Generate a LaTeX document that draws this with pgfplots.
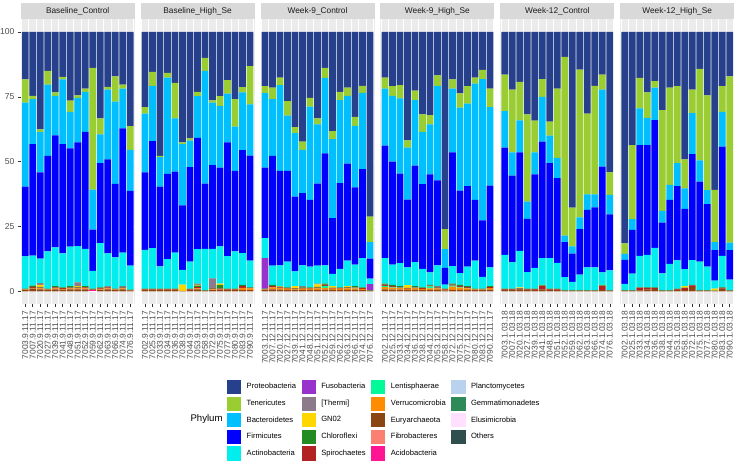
\documentclass[border=0pt]{standalone}
\usepackage{pgfplots}
\usepackage{pgfplotstable}
\pgfplotsset{compat=1.18}
\usepackage{fontspec}
\setmainfont{Liberation Sans}

\definecolor{protc}{HTML}{27408B}
\definecolor{tenc}{HTML}{9ACD32}
\definecolor{bacc}{HTML}{00BFFF}
\definecolor{firc}{HTML}{0000FF}
\definecolor{actc}{HTML}{00EEEE}
\definecolor{fusoc}{HTML}{9932CC}
\definecolor{thermc}{HTML}{8B7B8B}
\definecolor{gnc}{HTML}{FFD700}
\definecolor{chloc}{HTML}{228B22}
\definecolor{spic}{HTML}{B22222}
\definecolor{lentc}{HTML}{00FA9A}
\definecolor{verc}{HTML}{FF8C00}
\definecolor{euryc}{HTML}{8B4513}
\definecolor{fibc}{HTML}{FA8072}
\definecolor{acic}{HTML}{FF1493}
\definecolor{planc}{HTML}{B9D3EE}
\definecolor{gemc}{HTML}{2E8B57}
\definecolor{eluc}{HTML}{FFE1FF}
\definecolor{othc}{HTML}{2F4F4F}
\definecolor{panelbg}{HTML}{EBEBEB}
\definecolor{stripbg}{HTML}{D9D9D9}
\definecolor{labgray}{HTML}{4D4D4D}
\definecolor{striptext}{HTML}{1A1A1A}
\definecolor{tickgray}{HTML}{333333}

% columns: x ac eu ve le sp ch gn th fu act fir bac ten pro
\pgfplotstableread{
x ac eu ve le sp ch gn th fu act fir bac ten pro
1 0 0.5 0.15 0 0.15 0.2 0 0 0 12.5 26.9 32.4 8.9 18.3
2 0 1.0 0.3 0 0.4 0.5 0 0 0 11.6 43.0 17.3 1.3 24.6
3 0 0.8 0.3 0 0.3 0.3 0.8 0.7 0 9.4 33.3 15.6 0.9 37.6
4 0 0.6 0.1 0 0.1 0.2 0 0 0 14.4 36.8 27.5 5.3 15.0
5 0 0.8 0.3 0 0.4 0.5 0 0 0 14.9 43.2 15.3 1.3 23.3
6 0 0.7 0.2 0 0.3 0.3 0 0 0 13.1 42.2 24.9 1.0 17.3
7 0 0.8 0.3 0 0.3 0.6 0 0 0 15.2 37.9 14.1 4.3 26.5
8 0 0.8 0.3 0 0.3 0.3 0.3 1.5 0 13.9 40.0 17.2 1.0 24.4
9 0 0.8 0.3 0 0.4 0.5 0 0 0 14.4 45.1 15.4 1.3 21.8
10 0.5 0.3 0 0 0 0.2 0 0 0 6.9 15.9 15.4 47.0 13.8
11 0 0.6 0.2 0 0.3 0.4 0 0 0 17.1 30.8 11.1 6.2 33.3
12 0 0.8 0.3 0 0.4 0.3 0 0.2 0 12.6 36.3 26.9 1.0 21.2
13 0 0.5 0.2 0 0.1 0.2 0 0 0 12.1 28.3 31.7 9.8 17.1
14 0 0.8 0.3 0 0.3 0.3 0 0.3 0 12.9 47.9 15.4 1.5 20.3
15 0 0.4 0.1 0 0 0.2 0 0 0 9.2 28.8 15.8 9.2 36.3
}\tA
\pgfplotstableread{
x ac eu ve le sp ch gn th fu act fir bac ten pro
1 0 0.5 0.1 0 0.2 0.2 0 0 0 15.0 29.9 22.6 2.5 29.0
2 0 0.5 0.1 0 0.2 0.2 0 0 0 15.7 41.2 21.3 5.4 15.4
3 0 0.5 0.1 0 0.2 0.2 0 0 0 8.6 30.8 11.3 0.5 47.8
4 0 0.5 0.1 0 0.2 0.2 0 0 0 11.4 32.9 37.1 1.8 15.8
5 0 0.5 0.1 0 0.2 0.2 0 0 0 13.9 31.3 20.5 13.7 19.6
6 0 0.2 0 0 0 0 2.4 0 0 5.7 24.8 23.7 0.6 42.6
7 0 0.5 0.1 0 0.2 0.2 0 0 0 10.5 36.4 10.2 0.9 41.0
8 0 0.8 0.3 0 0.5 0.6 0.3 0.5 0 13.3 42.9 16.1 1.6 23.1
9 0 0.3 0 0 0 0.2 0 0 0 15.9 25.1 43.5 5.0 10.0
10 0 0.5 0.3 0 0.2 0.2 0 3.8 0 11.4 32.3 24.1 0.8 26.4
11 0 0.5 0.2 0 0.3 1.5 0.5 0 0 14.3 30.4 23.8 3.8 24.7
12 0 0.5 0.1 0 0.2 0.2 0 0 0 12.6 43.8 18.8 5.2 18.6
13 0 0.5 0.1 0 0.2 0.2 0 0 0 14.4 31.0 17.1 10.6 25.9
14 0 0.6 0.7 0 0.8 0.4 0 0 0 12.2 39.7 22.3 2.0 21.3
15 0 0.5 0.6 0 0.2 0.2 0 0 0 10.3 40.5 19.8 14.7 13.2
}\tB
\pgfplotstableread{
x ac eu ve le sp ch gn th fu act fir bac ten pro
1 0 0.5 0.2 0 0.1 0.2 0 0 11.8 7.7 27.2 28.7 2.7 20.9
2 0 0.8 0.7 0 0.5 0.5 0 0 0 7.4 42.3 21.9 4.4 21.5
3 0 0.7 0.5 0 0.3 0.3 0.2 0 0 8.0 36.4 33.1 2.9 17.6
4 0 0.6 0.4 0 0.2 0.3 0 0 0 10.0 34.9 21.3 5.6 26.7
5 0 0.5 0.3 0 0.2 0.2 0.8 0 0 5.7 28.8 24.5 2.3 36.7
6 0 0.6 0.4 0 0.2 0.3 0 0.5 0 8.0 27.9 16.6 3.2 42.3
7 0 0.6 0.4 0 0.2 0.3 0 0 0 8.0 25.8 35.9 3.4 25.4
8 0 0.6 0.5 0 0.3 0.3 1.0 0.3 0 6.9 31.6 22.9 2.3 33.3
9 0 0.7 0.6 0.8 0.5 0.4 0 0 0 7.0 43.2 29.1 3.9 13.8
10 0 0.6 0.4 0 0.2 0.2 0.6 0 0 4.7 21.5 30.5 3.1 38.2
11 0 0.6 0.4 0 0.2 0.3 0 0 0 7.2 33.0 32.0 3.2 23.1
12 0 0.6 0.5 0 0.3 0.2 0.4 0 0 9.8 37.4 26.2 3.1 21.5
13 0 0.7 0.4 0.3 0.3 0.3 0 0 0 8.3 29.8 23.7 3.5 32.7
14 0 0.6 0.3 0 0.3 0.3 0 0 0 11.3 34.3 29.4 2.7 20.8
15 0 0.3 0 0 0 0.2 0 0 2.3 2.1 7.7 6.4 9.8 71.2
}\tC
\pgfplotstableread{
x ac eu ve le sp ch gn th fu act fir bac ten pro
1 0 0.8 0.8 0.5 0.5 0.4 0 0 0 9.8 43.4 22.0 4.2 17.6
2 0 0.7 0.7 0.3 0.4 0.4 0 0 0 7.8 39.7 25.4 3.7 20.9
3 0 0.7 0.5 0.2 0.3 0.3 0 0 0 8.9 34.5 29.0 5.1 20.5
4 0 0.6 0.3 0 0.2 0.2 1.2 0 0 6.7 26.2 20.0 2.8 41.8
5 0 0.7 0.5 0.2 0.3 0.3 0 0 0 9.3 37.2 25.2 3.7 22.6
6 0 0.6 0.3 0 0.3 0.3 0 0 0 7.2 32.6 20.2 6.7 31.8
7 0 0.6 0.5 0.8 0.3 0.3 0 0 0 4.8 37.8 19.3 3.5 32.1
8 0 0.7 0.4 0 0.3 0.3 0 0.3 0 8.0 32.8 36.4 4.1 16.7
9 0 0.4 0.2 0 0.2 0.2 0 0 0 1.6 6.4 7.3 7.7 76.0
10 0 0.6 1.2 0.4 0.4 0.4 0 0 0 6.7 43.9 24.6 3.5 18.3
11 0 0.6 0.8 0.3 0.4 0.4 0 0 0 4.5 31.8 32.0 5.5 23.7
12 0 0.6 0.5 0.2 0.4 0.3 0 0 0 7.5 31.1 31.8 6.7 20.9
13 0 0.5 0.2 0 0.1 0.2 0 0 0 10.8 23.5 44.8 2.3 17.6
14 0 0.5 0.2 0 0.1 0.2 0 0 0 4.6 21.8 54.4 3.6 14.6
15 0 0.7 0.5 0 0.4 0.4 0 0 0 7.2 31.6 30.2 7.2 21.8
}\tD
\pgfplotstableread{
x ac eu ve le sp ch gn th fu act fir bac ten pro
1 0 0.6 0 0 0.2 0.2 0 0 0 13.1 41.3 14.1 14.1 16.4
2 0 0.6 0 0 0.2 0.2 0 0 0 10.3 33.3 9.0 24.2 22.2
3 0 0.8 0 0 0.2 0.2 0.3 0 0 14.1 38.0 12.3 14.9 19.2
4 0 0.6 0 0 0.2 0.2 0 0 0 6.4 20.5 6.7 33.6 31.8
5 0 0.6 0 0 0.2 0.2 0 0 0 8.0 36.1 8.5 12.2 34.2
6 0 0.8 0 0 1.3 0.2 0.2 0 0 10.3 44.9 17.3 6.8 18.2
7 0 0.6 0 0 0.2 0.2 0 0 0 11.8 36.6 10.6 5.4 34.6
8 0 0.5 0 0 0.3 0.2 0 0 0 10.0 32.6 7.9 26.7 21.8
9 0 0.3 0 0 0 0.2 0 0 0 5.0 13.5 2.5 68.9 9.6
10 0 0.3 0 0 0 0.2 0 0 0 3.1 10.9 2.8 15.0 67.7
11 0 0.3 0 0 0 0.2 0 0 0 5.9 17.6 4.5 57.0 14.5
12 0 0.3 0 0 0 0.2 0 0 0 8.7 22.2 6.0 31.1 31.5
13 0 0.3 0 0 0 0.2 0 0 0 8.7 23.2 5.0 41.8 20.8
14 0 0.6 0 0 1.5 0.2 0.2 0 0 4.8 40.8 29.7 5.8 16.4
15 0 0.3 0 0 0 0.2 0 0 0 7.6 21.6 7.5 8.7 54.1
}\tE
\pgfplotstableread{
x ac eu ve le sp ch gn th fu act fir bac ten pro
1 0 0.3 0 0 0 0.2 0 0 0 2.4 9.2 2.3 4.1 81.5
2 0 0.3 0 0 0 0.2 0 0 0 6.3 16.9 4.1 28.6 43.6
3 0 0.4 0 0 1.0 0.1 0 0 0 12.2 42.7 14.1 11.8 17.7
4 0 0.8 0 0 0.5 0.2 0 0 0 12.6 42.3 10.5 9.8 23.3
5 0 0.9 0 0 0.4 0.2 0 0 0 15.3 49.2 12.5 2.5 19.0
6 0 0.3 0 0 0 0.2 0 0 0 6.4 19.6 4.5 38.9 30.1
7 0 0.3 0 0 0 0.2 0 0 0 10.1 24.7 5.7 37.5 21.5
8 0 0.6 0 0 0.2 0.2 0 0 0 10.9 28.7 8.8 29.7 20.9
9 0 0.5 0 0 0.7 0.2 0.6 0 0 6.6 23.2 7.9 11.2 49.1
10 0 1.6 0 0 0.7 0.2 0 0 0 9.5 40.9 15.8 9.1 22.2
11 0 0.3 0 0 0 0.2 0 0 0 11.0 30.8 8.2 35.3 14.2
12 0 0.3 0 0 0 0.2 0 0 0 9.0 24.1 5.4 36.6 24.4
13 0 0.2 0 0 0 0.1 0.7 0 0 3.1 11.8 3.1 20.1 60.9
14 0 1.0 0 0 0.3 0.2 0 0 0 12.2 42.1 13.4 9.9 20.9
15 0 0.3 0 0 0 0.2 0 0 0 4.0 11.4 2.9 64.1 17.1
}\tF

\newcommand{\bars}[1]{%
\addplot[fill=acic,draw=none] table[x=x,y=ac]{#1};
\addplot[fill=euryc,draw=none] table[x=x,y=eu]{#1};
\addplot[fill=verc,draw=none] table[x=x,y=ve]{#1};
\addplot[fill=lentc,draw=none] table[x=x,y=le]{#1};
\addplot[fill=spic,draw=none] table[x=x,y=sp]{#1};
\addplot[fill=chloc,draw=none] table[x=x,y=ch]{#1};
\addplot[fill=gnc,draw=none] table[x=x,y=gn]{#1};
\addplot[fill=thermc,draw=none] table[x=x,y=th]{#1};
\addplot[fill=fusoc,draw=none] table[x=x,y=fu]{#1};
\addplot[fill=actc,draw=none] table[x=x,y=act]{#1};
\addplot[fill=firc,draw=none] table[x=x,y=fir]{#1};
\addplot[fill=bacc,draw=none] table[x=x,y=bac]{#1};
\addplot[fill=tenc,draw=none] table[x=x,y=ten]{#1};
\addplot[fill=protc,draw=none] table[x=x,y=pro]{#1};
}
\newcommand{\strip}[1]{\node[fill=stripbg,minimum width=114pt,minimum height=15.5pt,inner sep=0pt,anchor=south,text=striptext,font=\fontsize{8.3}{9}\selectfont] at (rel axis cs:0.5,1) {#1};}

\pgfplotsset{
facet/.style={
  ybar stacked, bar width=0.9,
  scale only axis, width=114pt, height=285.3pt,
  xmin=0.4, xmax=15.6, ymin=-5, ymax=105,
  axis lines*=left, axis line style={draw=none,-},
  axis background/.style={fill=panelbg},
  xtick={1,...,15},
  minor xtick={0.5,1.5,...,15.5}, xminorgrids=true,
  minor grid style={white, line width=0.9pt}, minor tick length=0pt,
  ytick={0,25,50,75,100}, ymajorgrids=true,
  major grid style={white, line width=0.6pt},
  tick align=outside, major tick length=2.7pt,
  tick style={color=tickgray, line width=0.5pt},
  x tick label style={yshift=-2.5pt, rotate=90, anchor=east, text=labgray, font=\fontsize{8.4}{9}\selectfont, inner sep=1pt},
  y tick label style={text=labgray, font=\fontsize{8.6}{9}\selectfont},
  yticklabels={},
  clip=false,
},
notfirst/.style={y tick style={draw=none}},
sq/.style={legend image code/.code={\fill[#1] (0pt,-6.6pt) rectangle (13.3pt,6.6pt);}},
}

\begin{document}
\begin{tikzpicture}
\useasboundingbox (0,0) rectangle (740pt,464pt);

\begin{axis}[facet, at={(20.7pt,159.7pt)}, anchor=south west,
  yticklabels={0,25,50,75,100},
  xticklabels={7003.9.11.17,7007.9.11.17,7020.9.11.17,7027.9.11.17,7039.9.11.17,7041.9.11.17,7048.9.11.17,7051.9.11.17,7052.9.11.17,7059.9.11.17,7062.9.11.17,7063.9.11.17,7066.9.11.17,7074.9.11.17,7076.9.11.17}]
\bars{\tA}
\strip{Baseline\_Control}
\end{axis}

\begin{axis}[facet, notfirst, at={(140.6pt,159.7pt)}, anchor=south west,
  xticklabels={7002.9.11.17,7025.9.11.17,7033.9.11.17,7034.9.11.17,7036.9.11.17,7038.9.11.17,7044.9.11.17,7053.9.11.17,7058.9.11.17,7072.9.11.17,7075.9.11.17,7077.9.11.17,7080.9.11.17,7083.9.11.17,7090.9.11.17}]
\bars{\tB}
\strip{Baseline\_High\_Se}
\end{axis}

\begin{axis}[facet, notfirst, at={(260.5pt,159.7pt)}, anchor=south west,
  xticklabels={7003.12.11.17,7007.12.11.17,7020.12.11.17,7027.12.11.17,7039.12.11.17,7041.12.11.17,7048.12.11.17,7051.12.11.17,7052.12.11.17,7059.12.11.17,7062.12.11.17,7063.12.11.17,7066.12.11.17,7074.12.11.17,7076.12.11.17}]
\bars{\tC}
\strip{Week-9\_Control}
\end{axis}

\begin{axis}[facet, notfirst, at={(380.4pt,159.7pt)}, anchor=south west,
  xticklabels={7002.12.11.17,7025.12.11.17,7033.12.11.17,7034.12.11.17,7036.12.11.17,7038.12.11.17,7044.12.11.17,7053.12.11.17,7058.12.11.17,7072.12.11.17,7075.12.11.17,7077.12.11.17,7080.12.11.17,7083.12.11.17,7090.12.11.17}]
\bars{\tD}
\strip{Week-9\_High\_Se}
\end{axis}

\begin{axis}[facet, notfirst, at={(500.3pt,159.7pt)}, anchor=south west,
  xticklabels={7003.1.03.18,7007.1.03.18,7020.1.03.18,7027.1.03.18,7039.1.03.18,7041.1.03.18,7048.1.03.18,7051.1.03.18,7052.1.03.18,7059.1.03.18,7062.1.03.18,7063.1.03.18,7066.1.03.18,7074.1.03.18,7076.1.03.18}]
\bars{\tE}
\strip{Week-12\_Control}
\end{axis}

\begin{axis}[facet, notfirst, at={(620.2pt,159.7pt)}, anchor=south west,
  xticklabels={7002.1.03.18,7025.1.03.18,7033.1.03.18,7034.1.03.18,7036.1.03.18,7038.1.03.18,7044.1.03.18,7053.1.03.18,7058.1.03.18,7072.1.03.18,7075.1.03.18,7077.1.03.18,7080.1.03.18,7083.1.03.18,7090.1.03.18}]
\bars{\tF}
\strip{Week-12\_High\_Se}
\end{axis}

% legend
\begin{axis}[at={(227pt,84pt)}, anchor=north west, hide axis, scale only axis,
  width=10pt, height=10pt, xmin=0, xmax=1, ymin=0, ymax=1,
  legend columns=4, legend cell align=left,
  legend style={at={(0,1)}, anchor=north west, draw=none, fill=none,
    inner sep=0pt, outer sep=0pt, row sep=3pt,
    font=\fontsize{7.6}{9}\selectfont,
    nodes={inner sep=0.5pt},
    /tikz/every odd column/.append style={column sep=5.5pt},
    /tikz/every even column/.append style={column sep=5pt}}]
\addlegendimage{sq=protc}\addlegendentry{Proteobacteria}
\addlegendimage{sq=fusoc}\addlegendentry{Fusobacteria}
\addlegendimage{sq=lentc}\addlegendentry{Lentisphaerae}
\addlegendimage{sq=planc}\addlegendentry{Planctomycetes}
\addlegendimage{sq=tenc}\addlegendentry{Tenericutes}
\addlegendimage{sq=thermc}\addlegendentry{[Thermi]}
\addlegendimage{sq=verc}\addlegendentry{Verrucomicrobia}
\addlegendimage{sq=gemc}\addlegendentry{Gemmatimonadetes}
\addlegendimage{sq=bacc}\addlegendentry{Bacteroidetes}
\addlegendimage{sq=gnc}\addlegendentry{GN02}
\addlegendimage{sq=euryc}\addlegendentry{Euryarchaeota}
\addlegendimage{sq=eluc}\addlegendentry{Elusimicrobia}
\addlegendimage{sq=firc}\addlegendentry{Firmicutes}
\addlegendimage{sq=chloc}\addlegendentry{Chloroflexi}
\addlegendimage{sq=fibc}\addlegendentry{Fibrobacteres}
\addlegendimage{sq=othc}\addlegendentry{Others}
\addlegendimage{sq=actc}\addlegendentry{Actinobacteria}
\addlegendimage{sq=spic}\addlegendentry{Spirochaetes}
\addlegendimage{sq=acic}\addlegendentry{Acidobacteria}
\end{axis}
\node[anchor=west, font=\fontsize{9.6}{11}\selectfont] at (187pt,45pt) {Phylum};
\end{tikzpicture}
\end{document}
